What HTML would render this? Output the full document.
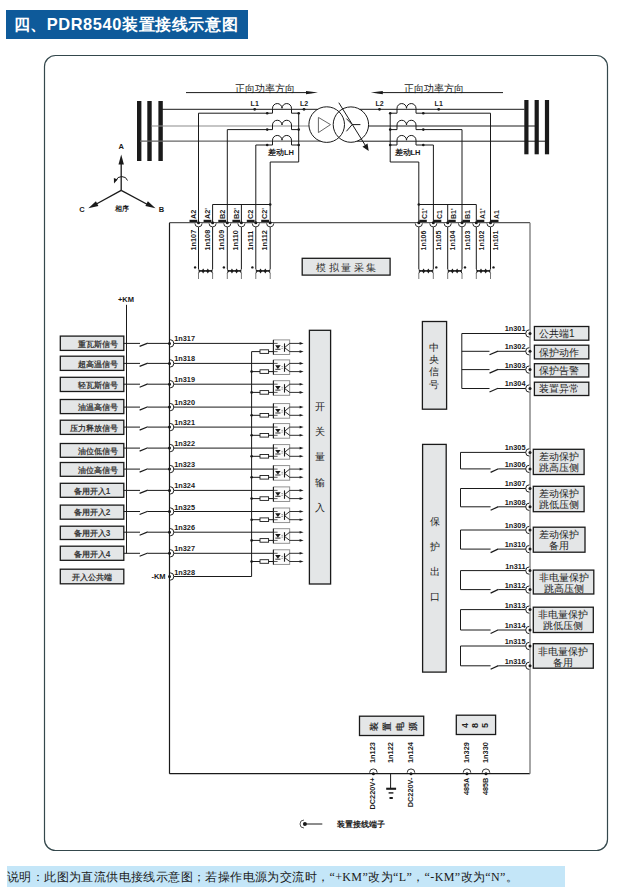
<!DOCTYPE html>
<html><head><meta charset="utf-8"><style>
html,body{margin:0;padding:0;background:#fff;}
body{width:629px;height:894px;position:relative;overflow:hidden;font-family:"Liberation Sans",sans-serif;}
.hdr{position:absolute;left:6px;top:10px;width:242px;height:28.5px;background:#0e5a9a;}
.hdr span{position:absolute;left:7.5px;top:4.5px;color:#fff;font-weight:bold;font-size:16.4px;line-height:18px;letter-spacing:0.6px;white-space:nowrap;font-family:"Liberation Sans",sans-serif;}
.note{position:absolute;left:6.5px;top:866px;width:558px;height:20.5px;background:#c4e6f8;}
.note span{position:absolute;left:0.5px;top:5px;font-size:12px;line-height:13px;letter-spacing:0.4px;color:#1a1a1a;white-space:nowrap;font-family:"Liberation Serif",serif;}
svg{position:absolute;left:0;top:0;}
</style></head><body>
<div class="hdr"><span>四、PDR8540装置接线示意图</span></div>
<svg width="629" height="894" viewBox="0 0 629 894">
<path d="M55.5,55.5 H596.5 A11,11 0 0 1 607.5,66.5 V839.5 A11,11 0 0 1 596.5,850.5 H55.5 A11,11 0 0 1 44.5,839.5 V66.5 A11,11 0 0 1 55.5,55.5 Z" fill="none" stroke="#34484c" stroke-width="1.2"/>
<rect x="137.0" y="101" width="4.4" height="60" fill="#1a1a1a"/>
<rect x="147.3" y="101" width="4.4" height="60" fill="#1a1a1a"/>
<rect x="158.4" y="101" width="4.4" height="60" fill="#1a1a1a"/>
<rect x="524.3" y="100" width="4.2" height="54.3" fill="#1a1a1a"/>
<rect x="534.6" y="100" width="4.2" height="54.3" fill="#1a1a1a"/>
<rect x="544.9" y="100" width="4.2" height="54.3" fill="#1a1a1a"/>
<line x1="162" y1="109.3" x2="317.6" y2="109.3" stroke="#1a1a1a" stroke-width="1"/>
<line x1="151.5" y1="126" x2="309" y2="126" stroke="#8c8c8c" stroke-width="1.2"/>
<line x1="140" y1="141.2" x2="320.5" y2="141.2" stroke="#666" stroke-width="1.2"/>
<line x1="359.8" y1="109.3" x2="524.4" y2="109.3" stroke="#1a1a1a" stroke-width="1"/>
<line x1="368.6" y1="126" x2="535" y2="126" stroke="#1a1a1a" stroke-width="1"/>
<line x1="357.1" y1="141.2" x2="545" y2="141.2" stroke="#1a1a1a" stroke-width="1"/>
<line x1="186" y1="92.6" x2="312" y2="92.6" stroke="#1a1a1a" stroke-width="1"/>
<polygon points="318,92.6 306.00,94.30 306.00,90.90" fill="#1a1a1a"/>
<text x="265" y="91.5" font-family="Liberation Serif, serif" font-size="10" font-weight="normal" text-anchor="middle" fill="#1a1a1a">正向功率方向</text>
<line x1="377" y1="92.6" x2="503" y2="92.6" stroke="#1a1a1a" stroke-width="1"/>
<polygon points="370.8,92.6 382.80,90.90 382.80,94.30" fill="#1a1a1a"/>
<text x="433.5" y="91.5" font-family="Liberation Serif, serif" font-size="10" font-weight="normal" text-anchor="middle" fill="#1a1a1a">正向功率方向</text>
<circle cx="254.7" cy="109.3" r="1.4" fill="#1a1a1a"/>
<text x="254.7" y="105.8" font-family="Liberation Sans, sans-serif" font-size="7" font-weight="bold" text-anchor="middle" fill="#1a1a1a">L1</text>
<circle cx="304" cy="109.3" r="1.4" fill="#1a1a1a"/>
<text x="304" y="105.8" font-family="Liberation Sans, sans-serif" font-size="7" font-weight="bold" text-anchor="middle" fill="#1a1a1a">L2</text>
<circle cx="379.5" cy="109.3" r="1.4" fill="#1a1a1a"/>
<text x="379.5" y="105.8" font-family="Liberation Sans, sans-serif" font-size="7" font-weight="bold" text-anchor="middle" fill="#1a1a1a">L2</text>
<circle cx="438.7" cy="109.3" r="1.4" fill="#1a1a1a"/>
<text x="438.7" y="105.8" font-family="Liberation Sans, sans-serif" font-size="7" font-weight="bold" text-anchor="middle" fill="#1a1a1a">L1</text>
<path d="M272.5,113.2 V108.3 A4.75,4.75 0 0 1 282.0,108.3 A4.75,4.75 0 0 1 291.5,108.3 V113.2" fill="none" stroke="#1a1a1a" stroke-width="1"/>
<line x1="267.2" y1="113.2" x2="272.5" y2="113.2" stroke="#1a1a1a" stroke-width="1"/>
<line x1="291.5" y1="113.2" x2="298.7" y2="113.2" stroke="#1a1a1a" stroke-width="1"/>
<circle cx="267.2" cy="113.2" r="1.3" fill="#1a1a1a"/>
<circle cx="298.7" cy="113.2" r="1.3" fill="#1a1a1a"/>
<path d="M397,113.2 V108.3 A4.75,4.75 0 0 1 406.5,108.3 A4.75,4.75 0 0 1 416.0,108.3 V113.2" fill="none" stroke="#1a1a1a" stroke-width="1"/>
<line x1="390.2" y1="113.2" x2="397" y2="113.2" stroke="#1a1a1a" stroke-width="1"/>
<line x1="416" y1="113.2" x2="423.3" y2="113.2" stroke="#1a1a1a" stroke-width="1"/>
<circle cx="390.2" cy="113.2" r="1.3" fill="#1a1a1a"/>
<circle cx="423.3" cy="113.2" r="1.3" fill="#1a1a1a"/>
<path d="M272.5,129.6 V125 A4.75,4.75 0 0 1 282.0,125 A4.75,4.75 0 0 1 291.5,125 V129.6" fill="none" stroke="#1a1a1a" stroke-width="1"/>
<line x1="267.2" y1="129.6" x2="272.5" y2="129.6" stroke="#1a1a1a" stroke-width="1"/>
<line x1="291.5" y1="129.6" x2="298.7" y2="129.6" stroke="#1a1a1a" stroke-width="1"/>
<circle cx="267.2" cy="129.6" r="1.3" fill="#1a1a1a"/>
<circle cx="298.7" cy="129.6" r="1.3" fill="#1a1a1a"/>
<path d="M397,129.6 V125 A4.75,4.75 0 0 1 406.5,125 A4.75,4.75 0 0 1 416.0,125 V129.6" fill="none" stroke="#1a1a1a" stroke-width="1"/>
<line x1="390.2" y1="129.6" x2="397" y2="129.6" stroke="#1a1a1a" stroke-width="1"/>
<line x1="416" y1="129.6" x2="423.3" y2="129.6" stroke="#1a1a1a" stroke-width="1"/>
<circle cx="390.2" cy="129.6" r="1.3" fill="#1a1a1a"/>
<circle cx="423.3" cy="129.6" r="1.3" fill="#1a1a1a"/>
<path d="M272.5,145 V140.2 A4.75,4.75 0 0 1 282.0,140.2 A4.75,4.75 0 0 1 291.5,140.2 V145" fill="none" stroke="#1a1a1a" stroke-width="1"/>
<line x1="267.2" y1="145" x2="272.5" y2="145" stroke="#1a1a1a" stroke-width="1"/>
<line x1="291.5" y1="145" x2="298.7" y2="145" stroke="#1a1a1a" stroke-width="1"/>
<circle cx="267.2" cy="145" r="1.3" fill="#1a1a1a"/>
<circle cx="298.7" cy="145" r="1.3" fill="#1a1a1a"/>
<path d="M397,145 V140.2 A4.75,4.75 0 0 1 406.5,140.2 A4.75,4.75 0 0 1 416.0,140.2 V145" fill="none" stroke="#1a1a1a" stroke-width="1"/>
<line x1="390.2" y1="145" x2="397" y2="145" stroke="#1a1a1a" stroke-width="1"/>
<line x1="416" y1="145" x2="423.3" y2="145" stroke="#1a1a1a" stroke-width="1"/>
<circle cx="390.2" cy="145" r="1.3" fill="#1a1a1a"/>
<circle cx="423.3" cy="145" r="1.3" fill="#1a1a1a"/>
<text x="281" y="155" font-family="Liberation Sans, sans-serif" font-size="7.5" font-weight="bold" text-anchor="middle" fill="#1a1a1a">差动LH</text>
<text x="407.5" y="155" font-family="Liberation Sans, sans-serif" font-size="7.5" font-weight="bold" text-anchor="middle" fill="#1a1a1a">差动LH</text>
<polyline points="267.2,113.2 198.5,113.2 198.5,222.7" fill="none" stroke="#1a1a1a" stroke-width="1"/>
<polyline points="267.2,129.6 227.3,129.6 227.3,222.7" fill="none" stroke="#1a1a1a" stroke-width="1"/>
<polyline points="267.2,145 255.8,145 255.8,222.7" fill="none" stroke="#1a1a1a" stroke-width="1"/>
<polyline points="298.7,113.2 298.7,162 270.2,162 270.2,222.7" fill="none" stroke="#1a1a1a" stroke-width="1"/>
<line x1="212.6" y1="204.5" x2="270.2" y2="204.5" stroke="#1a1a1a" stroke-width="1"/>
<line x1="212.6" y1="204.5" x2="212.6" y2="222.7" stroke="#1a1a1a" stroke-width="1"/>
<line x1="241.4" y1="204.5" x2="241.4" y2="222.7" stroke="#1a1a1a" stroke-width="1"/>
<circle cx="270.2" cy="204.5" r="1.3" fill="#1a1a1a"/>
<polyline points="390.2,113.2 390.2,162 418.8,162 418.8,222.7" fill="none" stroke="#1a1a1a" stroke-width="1"/>
<polyline points="423.3,113.2 490.5,113.2 490.5,222.7" fill="none" stroke="#1a1a1a" stroke-width="1"/>
<polyline points="423.3,129.6 462,129.6 462,222.7" fill="none" stroke="#1a1a1a" stroke-width="1"/>
<polyline points="423.3,145 433.4,145 433.4,222.7" fill="none" stroke="#1a1a1a" stroke-width="1"/>
<line x1="418.8" y1="204.5" x2="476.3" y2="204.5" stroke="#1a1a1a" stroke-width="1"/>
<line x1="447.7" y1="204.5" x2="447.7" y2="222.7" stroke="#1a1a1a" stroke-width="1"/>
<line x1="476.3" y1="204.5" x2="476.3" y2="222.7" stroke="#1a1a1a" stroke-width="1"/>
<circle cx="418.8" cy="204.5" r="1.3" fill="#1a1a1a"/>
<circle cx="326.7" cy="124.6" r="17.8" fill="none" stroke="#1a1a1a" stroke-width="1"/>
<circle cx="350.9" cy="124.6" r="17.7" fill="none" stroke="#1a1a1a" stroke-width="1"/>
<polygon points="318.4,117.4 318.4,132.6 330.5,124.6" fill="none" stroke="#666" stroke-width="1"/>
<polyline points="346.4,118.6 352.2,124.6 346.4,131.3" fill="none" stroke="#1a1a1a" stroke-width="1"/>
<line x1="352.2" y1="124.6" x2="360.4" y2="124.6" stroke="#1a1a1a" stroke-width="1"/>
<line x1="338.8" y1="102.7" x2="366" y2="146.5" stroke="#1a1a1a" stroke-width="1"/>
<polygon points="368.7,151 362.45,146.65 367.54,143.47" fill="#1a1a1a"/>
<line x1="121.2" y1="190.4" x2="121.2" y2="163" stroke="#1a1a1a" stroke-width="1.3"/>
<polygon points="121.2,154.6 123.90,164.60 118.50,164.60" fill="#1a1a1a"/>
<line x1="121.2" y1="190.4" x2="95" y2="204.8" stroke="#1a1a1a" stroke-width="1.3"/>
<polygon points="88.3,208.2 95.94,201.21 98.42,206.01" fill="#1a1a1a"/>
<line x1="121.2" y1="190.4" x2="148" y2="204.8" stroke="#1a1a1a" stroke-width="1.3"/>
<polygon points="155.5,208.2 145.38,206.01 147.86,201.21" fill="#1a1a1a"/>
<text x="121.2" y="148.8" font-family="Liberation Sans, sans-serif" font-size="7.5" font-weight="bold" text-anchor="middle" fill="#1a1a1a">A</text>
<text x="81.9" y="212" font-family="Liberation Sans, sans-serif" font-size="7.5" font-weight="bold" text-anchor="middle" fill="#1a1a1a">C</text>
<text x="161.4" y="212" font-family="Liberation Sans, sans-serif" font-size="7.5" font-weight="bold" text-anchor="middle" fill="#1a1a1a">B</text>
<text x="122" y="211" font-family="Liberation Sans, sans-serif" font-size="7.3" font-weight="bold" text-anchor="middle" fill="#1a1a1a">相序</text>
<path d="M127.5,180.5 A6,5.5 0 0 0 116,180.5" fill="none" stroke="#1a1a1a" stroke-width="1"/>
<polygon points="114,183.5 113.87,178.12 117.62,179.51" fill="#1a1a1a"/>
<line x1="169.5" y1="222.7" x2="530" y2="222.7" stroke="#555" stroke-width="1.2"/>
<line x1="169.5" y1="222.7" x2="169.5" y2="773.7" stroke="#1a1a1a" stroke-width="1.2"/>
<line x1="169.5" y1="773.7" x2="530" y2="773.7" stroke="#1a1a1a" stroke-width="1.2"/>
<line x1="530" y1="222.7" x2="530" y2="773.7" stroke="#888" stroke-width="1.5"/>
<rect x="189.5" y="219.8" width="7.8" height="2.2" fill="#1a1a1a"/>
<text x="195.7" y="219" font-family="Liberation Sans, sans-serif" font-size="7.3" font-weight="bold" text-anchor="start" fill="#1a1a1a" transform="rotate(-90 195.7 219)">A2</text>
<text x="195.5" y="250.5" font-family="Liberation Sans, sans-serif" font-size="7.3" font-weight="bold" text-anchor="start" fill="#1a1a1a" transform="rotate(-90 195.5 250.5)">1n107</text>
<rect x="203.6" y="219.8" width="7.8" height="2.2" fill="#1a1a1a"/>
<text x="209.79999999999998" y="219" font-family="Liberation Sans, sans-serif" font-size="7.3" font-weight="bold" text-anchor="start" fill="#1a1a1a" transform="rotate(-90 209.79999999999998 219)">A2'</text>
<text x="209.6" y="250.5" font-family="Liberation Sans, sans-serif" font-size="7.3" font-weight="bold" text-anchor="start" fill="#1a1a1a" transform="rotate(-90 209.6 250.5)">1n108</text>
<rect x="218.3" y="219.8" width="7.8" height="2.2" fill="#1a1a1a"/>
<text x="224.5" y="219" font-family="Liberation Sans, sans-serif" font-size="7.3" font-weight="bold" text-anchor="start" fill="#1a1a1a" transform="rotate(-90 224.5 219)">B2</text>
<text x="224.3" y="250.5" font-family="Liberation Sans, sans-serif" font-size="7.3" font-weight="bold" text-anchor="start" fill="#1a1a1a" transform="rotate(-90 224.3 250.5)">1n109</text>
<rect x="232.4" y="219.8" width="7.8" height="2.2" fill="#1a1a1a"/>
<text x="238.6" y="219" font-family="Liberation Sans, sans-serif" font-size="7.3" font-weight="bold" text-anchor="start" fill="#1a1a1a" transform="rotate(-90 238.6 219)">B2'</text>
<text x="238.4" y="250.5" font-family="Liberation Sans, sans-serif" font-size="7.3" font-weight="bold" text-anchor="start" fill="#1a1a1a" transform="rotate(-90 238.4 250.5)">1n110</text>
<rect x="246.8" y="219.8" width="7.8" height="2.2" fill="#1a1a1a"/>
<text x="253.0" y="219" font-family="Liberation Sans, sans-serif" font-size="7.3" font-weight="bold" text-anchor="start" fill="#1a1a1a" transform="rotate(-90 253.0 219)">C2</text>
<text x="252.8" y="250.5" font-family="Liberation Sans, sans-serif" font-size="7.3" font-weight="bold" text-anchor="start" fill="#1a1a1a" transform="rotate(-90 252.8 250.5)">1n111</text>
<rect x="261.2" y="219.8" width="7.8" height="2.2" fill="#1a1a1a"/>
<text x="267.4" y="219" font-family="Liberation Sans, sans-serif" font-size="7.3" font-weight="bold" text-anchor="start" fill="#1a1a1a" transform="rotate(-90 267.4 219)">C2'</text>
<text x="267.2" y="250.5" font-family="Liberation Sans, sans-serif" font-size="7.3" font-weight="bold" text-anchor="start" fill="#1a1a1a" transform="rotate(-90 267.2 250.5)">1n112</text>
<rect x="419.3" y="219.8" width="7.5" height="2.2" fill="#1a1a1a"/>
<text x="427.1" y="219" font-family="Liberation Sans, sans-serif" font-size="7" font-weight="bold" text-anchor="start" fill="#1a1a1a" transform="rotate(-90 427.1 219)">C1'</text>
<text x="426.3" y="250.5" font-family="Liberation Sans, sans-serif" font-size="7" font-weight="bold" text-anchor="start" fill="#1a1a1a" transform="rotate(-90 426.3 250.5)">1n106</text>
<rect x="433.8" y="219.8" width="7.5" height="2.2" fill="#1a1a1a"/>
<text x="441.6" y="219" font-family="Liberation Sans, sans-serif" font-size="7" font-weight="bold" text-anchor="start" fill="#1a1a1a" transform="rotate(-90 441.6 219)">C1</text>
<text x="440.8" y="250.5" font-family="Liberation Sans, sans-serif" font-size="7" font-weight="bold" text-anchor="start" fill="#1a1a1a" transform="rotate(-90 440.8 250.5)">1n105</text>
<rect x="448.2" y="219.8" width="7.5" height="2.2" fill="#1a1a1a"/>
<text x="456.0" y="219" font-family="Liberation Sans, sans-serif" font-size="7" font-weight="bold" text-anchor="start" fill="#1a1a1a" transform="rotate(-90 456.0 219)">B1'</text>
<text x="455.2" y="250.5" font-family="Liberation Sans, sans-serif" font-size="7" font-weight="bold" text-anchor="start" fill="#1a1a1a" transform="rotate(-90 455.2 250.5)">1n104</text>
<rect x="462.5" y="219.8" width="7.5" height="2.2" fill="#1a1a1a"/>
<text x="470.3" y="219" font-family="Liberation Sans, sans-serif" font-size="7" font-weight="bold" text-anchor="start" fill="#1a1a1a" transform="rotate(-90 470.3 219)">B1</text>
<text x="469.5" y="250.5" font-family="Liberation Sans, sans-serif" font-size="7" font-weight="bold" text-anchor="start" fill="#1a1a1a" transform="rotate(-90 469.5 250.5)">1n103</text>
<rect x="476.8" y="219.8" width="7.5" height="2.2" fill="#1a1a1a"/>
<text x="484.6" y="219" font-family="Liberation Sans, sans-serif" font-size="7" font-weight="bold" text-anchor="start" fill="#1a1a1a" transform="rotate(-90 484.6 219)">A1'</text>
<text x="483.8" y="250.5" font-family="Liberation Sans, sans-serif" font-size="7" font-weight="bold" text-anchor="start" fill="#1a1a1a" transform="rotate(-90 483.8 250.5)">1n102</text>
<rect x="491.0" y="219.8" width="7.5" height="2.2" fill="#1a1a1a"/>
<text x="498.8" y="219" font-family="Liberation Sans, sans-serif" font-size="7" font-weight="bold" text-anchor="start" fill="#1a1a1a" transform="rotate(-90 498.8 219)">A1</text>
<text x="498.0" y="250.5" font-family="Liberation Sans, sans-serif" font-size="7" font-weight="bold" text-anchor="start" fill="#1a1a1a" transform="rotate(-90 498.0 250.5)">1n101</text>
<line x1="198.5" y1="222.7" x2="198.5" y2="269" stroke="#1a1a1a" stroke-width="1"/>
<line x1="212.6" y1="222.7" x2="212.6" y2="269" stroke="#1a1a1a" stroke-width="1"/>
<line x1="198.5" y1="270.9" x2="212.6" y2="270.9" stroke="#1a1a1a" stroke-width="1.6"/>
<polygon points="201.553,270.9 203.153,268.59999999999997 204.753,270.9 203.153,273.59999999999997" fill="#1a1a1a"/>
<polygon points="206.206,270.9 207.80599999999998,268.59999999999997 209.40599999999998,270.9 207.80599999999998,273.59999999999997" fill="#1a1a1a"/>
<polyline points="198.5,269.2 200.0,270.9 198.5,273.2" fill="none" stroke="#1a1a1a" stroke-width="1"/>
<polyline points="212.6,269.2 211.1,270.9 212.6,273.2" fill="none" stroke="#1a1a1a" stroke-width="1"/>
<line x1="198.5" y1="273" x2="198.5" y2="279" stroke="#777" stroke-width="1"/>
<line x1="212.6" y1="273" x2="212.6" y2="279" stroke="#777" stroke-width="1"/>
<circle cx="195.1" cy="267.4" r="1.2" fill="#1a1a1a"/>
<line x1="227.3" y1="222.7" x2="227.3" y2="269" stroke="#1a1a1a" stroke-width="1"/>
<line x1="241.4" y1="222.7" x2="241.4" y2="269" stroke="#1a1a1a" stroke-width="1"/>
<line x1="227.3" y1="270.9" x2="241.4" y2="270.9" stroke="#1a1a1a" stroke-width="1.6"/>
<polygon points="230.353,270.9 231.953,268.59999999999997 233.553,270.9 231.953,273.59999999999997" fill="#1a1a1a"/>
<polygon points="235.006,270.9 236.606,268.59999999999997 238.206,270.9 236.606,273.59999999999997" fill="#1a1a1a"/>
<polyline points="227.3,269.2 228.8,270.9 227.3,273.2" fill="none" stroke="#1a1a1a" stroke-width="1"/>
<polyline points="241.4,269.2 239.9,270.9 241.4,273.2" fill="none" stroke="#1a1a1a" stroke-width="1"/>
<line x1="227.3" y1="273" x2="227.3" y2="279" stroke="#777" stroke-width="1"/>
<line x1="241.4" y1="273" x2="241.4" y2="279" stroke="#777" stroke-width="1"/>
<circle cx="223.9" cy="267.4" r="1.2" fill="#1a1a1a"/>
<line x1="255.8" y1="222.7" x2="255.8" y2="269" stroke="#1a1a1a" stroke-width="1"/>
<line x1="270.2" y1="222.7" x2="270.2" y2="269" stroke="#1a1a1a" stroke-width="1"/>
<line x1="255.8" y1="270.9" x2="270.2" y2="270.9" stroke="#1a1a1a" stroke-width="1.6"/>
<polygon points="258.952,270.9 260.552,268.59999999999997 262.15200000000004,270.9 260.552,273.59999999999997" fill="#1a1a1a"/>
<polygon points="263.70399999999995,270.9 265.304,268.59999999999997 266.904,270.9 265.304,273.59999999999997" fill="#1a1a1a"/>
<polyline points="255.8,269.2 257.3,270.9 255.8,273.2" fill="none" stroke="#1a1a1a" stroke-width="1"/>
<polyline points="270.2,269.2 268.7,270.9 270.2,273.2" fill="none" stroke="#1a1a1a" stroke-width="1"/>
<line x1="255.8" y1="273" x2="255.8" y2="279" stroke="#777" stroke-width="1"/>
<line x1="270.2" y1="273" x2="270.2" y2="279" stroke="#777" stroke-width="1"/>
<circle cx="252.4" cy="267.4" r="1.2" fill="#1a1a1a"/>
<line x1="418.8" y1="222.7" x2="418.8" y2="269" stroke="#1a1a1a" stroke-width="1"/>
<line x1="433.3" y1="222.7" x2="433.3" y2="269" stroke="#1a1a1a" stroke-width="1"/>
<line x1="418.8" y1="270.9" x2="433.3" y2="270.9" stroke="#1a1a1a" stroke-width="1.6"/>
<polygon points="421.985,270.9 423.58500000000004,268.59999999999997 425.18500000000006,270.9 423.58500000000004,273.59999999999997" fill="#1a1a1a"/>
<polygon points="426.77,270.9 428.37,268.59999999999997 429.97,270.9 428.37,273.59999999999997" fill="#1a1a1a"/>
<polyline points="418.8,269.2 420.3,270.9 418.8,273.2" fill="none" stroke="#1a1a1a" stroke-width="1"/>
<polyline points="433.3,269.2 431.8,270.9 433.3,273.2" fill="none" stroke="#1a1a1a" stroke-width="1"/>
<line x1="418.8" y1="273" x2="418.8" y2="279" stroke="#777" stroke-width="1"/>
<line x1="433.3" y1="273" x2="433.3" y2="279" stroke="#777" stroke-width="1"/>
<circle cx="436.3" cy="267.4" r="1.2" fill="#1a1a1a"/>
<line x1="447.7" y1="222.7" x2="447.7" y2="269" stroke="#1a1a1a" stroke-width="1"/>
<line x1="462" y1="222.7" x2="462" y2="269" stroke="#1a1a1a" stroke-width="1"/>
<line x1="447.7" y1="270.9" x2="462" y2="270.9" stroke="#1a1a1a" stroke-width="1.6"/>
<polygon points="450.81899999999996,270.9 452.419,268.59999999999997 454.019,270.9 452.419,273.59999999999997" fill="#1a1a1a"/>
<polygon points="455.53799999999995,270.9 457.138,268.59999999999997 458.738,270.9 457.138,273.59999999999997" fill="#1a1a1a"/>
<polyline points="447.7,269.2 449.2,270.9 447.7,273.2" fill="none" stroke="#1a1a1a" stroke-width="1"/>
<polyline points="462,269.2 460.5,270.9 462,273.2" fill="none" stroke="#1a1a1a" stroke-width="1"/>
<line x1="447.7" y1="273" x2="447.7" y2="279" stroke="#777" stroke-width="1"/>
<line x1="462" y1="273" x2="462" y2="279" stroke="#777" stroke-width="1"/>
<circle cx="465" cy="267.4" r="1.2" fill="#1a1a1a"/>
<line x1="476.3" y1="222.7" x2="476.3" y2="269" stroke="#1a1a1a" stroke-width="1"/>
<line x1="490.5" y1="222.7" x2="490.5" y2="269" stroke="#1a1a1a" stroke-width="1"/>
<line x1="476.3" y1="270.9" x2="490.5" y2="270.9" stroke="#1a1a1a" stroke-width="1.6"/>
<polygon points="479.38599999999997,270.9 480.986,268.59999999999997 482.586,270.9 480.986,273.59999999999997" fill="#1a1a1a"/>
<polygon points="484.072,270.9 485.672,268.59999999999997 487.27200000000005,270.9 485.672,273.59999999999997" fill="#1a1a1a"/>
<polyline points="476.3,269.2 477.8,270.9 476.3,273.2" fill="none" stroke="#1a1a1a" stroke-width="1"/>
<polyline points="490.5,269.2 489.0,270.9 490.5,273.2" fill="none" stroke="#1a1a1a" stroke-width="1"/>
<line x1="476.3" y1="273" x2="476.3" y2="279" stroke="#777" stroke-width="1"/>
<line x1="490.5" y1="273" x2="490.5" y2="279" stroke="#777" stroke-width="1"/>
<circle cx="493.5" cy="267.4" r="1.2" fill="#1a1a1a"/>
<rect x="302.2" y="258.3" width="87.9" height="16.8" stroke="#1a1a1a" stroke-width="1.3" fill="#e4e6e7"/>
<text x="346.2" y="270.6" font-family="Liberation Serif, serif" font-size="10" font-weight="500" text-anchor="middle" fill="#333">模 拟 量 采 集</text>
<rect x="60.3" y="336.1" width="63.5" height="14.299999999999955" stroke="#1a1a1a" stroke-width="1.3" fill="#e4e6e7"/>
<text x="117.8" y="346.55" font-family="Liberation Serif, serif" font-size="8.2" font-weight="bold" text-anchor="end" fill="#3a3a3a">重瓦斯信号</text>
<rect x="60.3" y="356.2" width="63.5" height="14.199999999999989" stroke="#1a1a1a" stroke-width="1.3" fill="#e4e6e7"/>
<text x="117.8" y="366.59999999999997" font-family="Liberation Serif, serif" font-size="8.2" font-weight="bold" text-anchor="end" fill="#3a3a3a">超高温信号</text>
<rect x="60.3" y="377.3" width="63.5" height="14.199999999999989" stroke="#1a1a1a" stroke-width="1.3" fill="#e4e6e7"/>
<text x="117.8" y="387.7" font-family="Liberation Serif, serif" font-size="8.2" font-weight="bold" text-anchor="end" fill="#3a3a3a">轻瓦斯信号</text>
<rect x="60.3" y="399.5" width="63.5" height="14.100000000000023" stroke="#1a1a1a" stroke-width="1.3" fill="#e4e6e7"/>
<text x="117.8" y="409.85" font-family="Liberation Serif, serif" font-size="8.2" font-weight="bold" text-anchor="end" fill="#3a3a3a">油温高信号</text>
<rect x="60.3" y="420.2" width="63.5" height="14.199999999999989" stroke="#1a1a1a" stroke-width="1.3" fill="#e4e6e7"/>
<text x="117.8" y="430.59999999999997" font-family="Liberation Serif, serif" font-size="8.2" font-weight="bold" text-anchor="end" fill="#3a3a3a">压力释放信号</text>
<rect x="60.3" y="443.5" width="63.5" height="13.800000000000011" stroke="#1a1a1a" stroke-width="1.3" fill="#e4e6e7"/>
<text x="117.8" y="453.7" font-family="Liberation Serif, serif" font-size="8.2" font-weight="bold" text-anchor="end" fill="#3a3a3a">油位低信号</text>
<rect x="60.3" y="462.5" width="63.5" height="13.800000000000011" stroke="#1a1a1a" stroke-width="1.3" fill="#e4e6e7"/>
<text x="117.8" y="472.7" font-family="Liberation Serif, serif" font-size="8.2" font-weight="bold" text-anchor="end" fill="#3a3a3a">油位高信号</text>
<rect x="60.3" y="483.3" width="63.5" height="14.0" stroke="#1a1a1a" stroke-width="1.3" fill="#e4e6e7"/>
<text x="92" y="493.6" font-family="Liberation Sans, sans-serif" font-size="8.2" font-weight="bold" text-anchor="middle" fill="#3a3a3a">备用开入1</text>
<rect x="60.3" y="505.1" width="63.5" height="14.100000000000023" stroke="#1a1a1a" stroke-width="1.3" fill="#e4e6e7"/>
<text x="92" y="515.45" font-family="Liberation Sans, sans-serif" font-size="8.2" font-weight="bold" text-anchor="middle" fill="#3a3a3a">备用开入2</text>
<rect x="60.3" y="526.2" width="63.5" height="13.299999999999955" stroke="#1a1a1a" stroke-width="1.3" fill="#e4e6e7"/>
<text x="92" y="536.15" font-family="Liberation Sans, sans-serif" font-size="8.2" font-weight="bold" text-anchor="middle" fill="#3a3a3a">备用开入3</text>
<rect x="60.3" y="546.2" width="63.5" height="14.099999999999909" stroke="#1a1a1a" stroke-width="1.3" fill="#e4e6e7"/>
<text x="92" y="556.55" font-family="Liberation Sans, sans-serif" font-size="8.2" font-weight="bold" text-anchor="middle" fill="#3a3a3a">备用开入4</text>
<rect x="60.3" y="569.2" width="63.5" height="14.599999999999909" stroke="#1a1a1a" stroke-width="1.3" fill="#e4e6e7"/>
<text x="92" y="579.8" font-family="Liberation Sans, sans-serif" font-size="8.2" font-weight="bold" text-anchor="middle" fill="#3a3a3a">开入公共端</text>
<text x="126" y="301.5" font-family="Liberation Sans, sans-serif" font-size="7.5" font-weight="bold" text-anchor="middle" fill="#1a1a1a">+KM</text>
<line x1="126.5" y1="304.8" x2="126.5" y2="553.3" stroke="#1a1a1a" stroke-width="1"/>
<line x1="123.8" y1="343.4" x2="140" y2="343.4" stroke="#1a1a1a" stroke-width="1"/>
<line x1="139.6" y1="346.4" x2="147.8" y2="343.09999999999997" stroke="#1a1a1a" stroke-width="1.2"/>
<line x1="147.8" y1="343.4" x2="169.5" y2="343.4" stroke="#1a1a1a" stroke-width="1"/>
<text x="174.3" y="341.4" font-family="Liberation Sans, sans-serif" font-size="7.3" font-weight="bold" text-anchor="start" fill="#1a1a1a">1n317</text>
<line x1="123.8" y1="363.4" x2="140" y2="363.4" stroke="#1a1a1a" stroke-width="1"/>
<line x1="139.6" y1="366.4" x2="147.8" y2="363.09999999999997" stroke="#1a1a1a" stroke-width="1.2"/>
<line x1="147.8" y1="363.4" x2="169.5" y2="363.4" stroke="#1a1a1a" stroke-width="1"/>
<text x="174.3" y="361.4" font-family="Liberation Sans, sans-serif" font-size="7.3" font-weight="bold" text-anchor="start" fill="#1a1a1a">1n318</text>
<line x1="123.8" y1="384.2" x2="140" y2="384.2" stroke="#1a1a1a" stroke-width="1"/>
<line x1="139.6" y1="387.2" x2="147.8" y2="383.9" stroke="#1a1a1a" stroke-width="1.2"/>
<line x1="147.8" y1="384.2" x2="169.5" y2="384.2" stroke="#1a1a1a" stroke-width="1"/>
<text x="174.3" y="382.2" font-family="Liberation Sans, sans-serif" font-size="7.3" font-weight="bold" text-anchor="start" fill="#1a1a1a">1n319</text>
<line x1="123.8" y1="407.1" x2="140" y2="407.1" stroke="#1a1a1a" stroke-width="1"/>
<line x1="139.6" y1="410.1" x2="147.8" y2="406.8" stroke="#1a1a1a" stroke-width="1.2"/>
<line x1="147.8" y1="407.1" x2="169.5" y2="407.1" stroke="#1a1a1a" stroke-width="1"/>
<text x="174.3" y="405.1" font-family="Liberation Sans, sans-serif" font-size="7.3" font-weight="bold" text-anchor="start" fill="#1a1a1a">1n320</text>
<line x1="123.8" y1="427.1" x2="140" y2="427.1" stroke="#1a1a1a" stroke-width="1"/>
<line x1="139.6" y1="430.1" x2="147.8" y2="426.8" stroke="#1a1a1a" stroke-width="1.2"/>
<line x1="147.8" y1="427.1" x2="169.5" y2="427.1" stroke="#1a1a1a" stroke-width="1"/>
<text x="174.3" y="425.1" font-family="Liberation Sans, sans-serif" font-size="7.3" font-weight="bold" text-anchor="start" fill="#1a1a1a">1n321</text>
<line x1="123.8" y1="448.1" x2="140" y2="448.1" stroke="#1a1a1a" stroke-width="1"/>
<line x1="139.6" y1="451.1" x2="147.8" y2="447.8" stroke="#1a1a1a" stroke-width="1.2"/>
<line x1="147.8" y1="448.1" x2="169.5" y2="448.1" stroke="#1a1a1a" stroke-width="1"/>
<text x="174.3" y="446.1" font-family="Liberation Sans, sans-serif" font-size="7.3" font-weight="bold" text-anchor="start" fill="#1a1a1a">1n322</text>
<line x1="123.8" y1="469.1" x2="140" y2="469.1" stroke="#1a1a1a" stroke-width="1"/>
<line x1="139.6" y1="472.1" x2="147.8" y2="468.8" stroke="#1a1a1a" stroke-width="1.2"/>
<line x1="147.8" y1="469.1" x2="169.5" y2="469.1" stroke="#1a1a1a" stroke-width="1"/>
<text x="174.3" y="467.1" font-family="Liberation Sans, sans-serif" font-size="7.3" font-weight="bold" text-anchor="start" fill="#1a1a1a">1n323</text>
<line x1="123.8" y1="490.4" x2="140" y2="490.4" stroke="#1a1a1a" stroke-width="1"/>
<line x1="139.6" y1="493.4" x2="147.8" y2="490.09999999999997" stroke="#1a1a1a" stroke-width="1.2"/>
<line x1="147.8" y1="490.4" x2="169.5" y2="490.4" stroke="#1a1a1a" stroke-width="1"/>
<text x="174.3" y="488.4" font-family="Liberation Sans, sans-serif" font-size="7.3" font-weight="bold" text-anchor="start" fill="#1a1a1a">1n324</text>
<line x1="123.8" y1="511.5" x2="140" y2="511.5" stroke="#1a1a1a" stroke-width="1"/>
<line x1="139.6" y1="514.5" x2="147.8" y2="511.2" stroke="#1a1a1a" stroke-width="1.2"/>
<line x1="147.8" y1="511.5" x2="169.5" y2="511.5" stroke="#1a1a1a" stroke-width="1"/>
<text x="174.3" y="509.5" font-family="Liberation Sans, sans-serif" font-size="7.3" font-weight="bold" text-anchor="start" fill="#1a1a1a">1n325</text>
<line x1="123.8" y1="532.2" x2="140" y2="532.2" stroke="#1a1a1a" stroke-width="1"/>
<line x1="139.6" y1="535.2" x2="147.8" y2="531.9000000000001" stroke="#1a1a1a" stroke-width="1.2"/>
<line x1="147.8" y1="532.2" x2="169.5" y2="532.2" stroke="#1a1a1a" stroke-width="1"/>
<text x="174.3" y="530.2" font-family="Liberation Sans, sans-serif" font-size="7.3" font-weight="bold" text-anchor="start" fill="#1a1a1a">1n326</text>
<line x1="123.8" y1="553.3" x2="140" y2="553.3" stroke="#1a1a1a" stroke-width="1"/>
<line x1="139.6" y1="556.3" x2="147.8" y2="553.0" stroke="#1a1a1a" stroke-width="1.2"/>
<line x1="147.8" y1="553.3" x2="169.5" y2="553.3" stroke="#1a1a1a" stroke-width="1"/>
<text x="174.3" y="551.3" font-family="Liberation Sans, sans-serif" font-size="7.3" font-weight="bold" text-anchor="start" fill="#1a1a1a">1n327</text>
<text x="174.3" y="574.5" font-family="Liberation Sans, sans-serif" font-size="7.3" font-weight="bold" text-anchor="start" fill="#1a1a1a">1n328</text>
<text x="158.5" y="579" font-family="Liberation Sans, sans-serif" font-size="7.5" font-weight="bold" text-anchor="middle" fill="#1a1a1a">-KM</text>
<line x1="169.5" y1="343.4" x2="273.4" y2="343.4" stroke="#1a1a1a" stroke-width="1"/>
<rect x="273.4" y="339.9" width="16.3" height="14.6" stroke="#888" stroke-width="0.9" fill="#fbfbfb"/>
<line x1="273.4" y1="339.9" x2="273.4" y2="354.5" stroke="#1a1a1a" stroke-width="1.1"/>
<line x1="273.4" y1="343.4" x2="277.6" y2="343.4" stroke="#333" stroke-width="0.8"/>
<line x1="273.4" y1="351.59999999999997" x2="277.6" y2="351.59999999999997" stroke="#333" stroke-width="0.8"/>
<polygon points="275.1,345.2 280.7,345.2 277.9,348.9" fill="#1a1a1a"/>
<line x1="275.3" y1="349.29999999999995" x2="280.5" y2="349.29999999999995" stroke="#1a1a1a" stroke-width="0.9"/>
<circle cx="282.1" cy="346.5" r="0.55" fill="#555"/>
<circle cx="282.1" cy="348.29999999999995" r="0.55" fill="#555"/>
<line x1="284.5" y1="343.4" x2="284.5" y2="351.79999999999995" stroke="#1a1a1a" stroke-width="1.1"/>
<line x1="284.5" y1="347.59999999999997" x2="289.7" y2="343.4" stroke="#1a1a1a" stroke-width="0.9"/>
<line x1="284.5" y1="347.59999999999997" x2="289.7" y2="351.59999999999997" stroke="#1a1a1a" stroke-width="0.9"/>
<line x1="289.7" y1="343.4" x2="300" y2="343.4" stroke="#1a1a1a" stroke-width="0.9"/>
<polygon points="303.6,343.4 299.60,344.70 299.60,342.10" fill="#1a1a1a"/>
<line x1="289.7" y1="351.59999999999997" x2="300" y2="351.59999999999997" stroke="#1a1a1a" stroke-width="0.9"/>
<polygon points="303.6,351.59999999999997 299.60,352.90 299.60,350.30" fill="#1a1a1a"/>
<line x1="251.6" y1="351.59999999999997" x2="260" y2="351.59999999999997" stroke="#1a1a1a" stroke-width="1"/>
<rect x="260" y="349.79999999999995" width="8.6" height="3.6" stroke="#1a1a1a" stroke-width="0.9" fill="#fff"/>
<line x1="268.6" y1="351.59999999999997" x2="273.4" y2="351.59999999999997" stroke="#1a1a1a" stroke-width="1"/>
<line x1="169.5" y1="363.4" x2="273.4" y2="363.4" stroke="#1a1a1a" stroke-width="1"/>
<rect x="273.4" y="359.9" width="16.3" height="14.6" stroke="#888" stroke-width="0.9" fill="#fbfbfb"/>
<line x1="273.4" y1="359.9" x2="273.4" y2="374.5" stroke="#1a1a1a" stroke-width="1.1"/>
<line x1="273.4" y1="363.4" x2="277.6" y2="363.4" stroke="#333" stroke-width="0.8"/>
<line x1="273.4" y1="371.59999999999997" x2="277.6" y2="371.59999999999997" stroke="#333" stroke-width="0.8"/>
<polygon points="275.1,365.2 280.7,365.2 277.9,368.9" fill="#1a1a1a"/>
<line x1="275.3" y1="369.29999999999995" x2="280.5" y2="369.29999999999995" stroke="#1a1a1a" stroke-width="0.9"/>
<circle cx="282.1" cy="366.5" r="0.55" fill="#555"/>
<circle cx="282.1" cy="368.29999999999995" r="0.55" fill="#555"/>
<line x1="284.5" y1="363.4" x2="284.5" y2="371.79999999999995" stroke="#1a1a1a" stroke-width="1.1"/>
<line x1="284.5" y1="367.59999999999997" x2="289.7" y2="363.4" stroke="#1a1a1a" stroke-width="0.9"/>
<line x1="284.5" y1="367.59999999999997" x2="289.7" y2="371.59999999999997" stroke="#1a1a1a" stroke-width="0.9"/>
<line x1="289.7" y1="363.4" x2="300" y2="363.4" stroke="#1a1a1a" stroke-width="0.9"/>
<polygon points="303.6,363.4 299.60,364.70 299.60,362.10" fill="#1a1a1a"/>
<line x1="289.7" y1="371.59999999999997" x2="300" y2="371.59999999999997" stroke="#1a1a1a" stroke-width="0.9"/>
<polygon points="303.6,371.59999999999997 299.60,372.90 299.60,370.30" fill="#1a1a1a"/>
<line x1="251.6" y1="371.59999999999997" x2="260" y2="371.59999999999997" stroke="#1a1a1a" stroke-width="1"/>
<rect x="260" y="369.79999999999995" width="8.6" height="3.6" stroke="#1a1a1a" stroke-width="0.9" fill="#fff"/>
<line x1="268.6" y1="371.59999999999997" x2="273.4" y2="371.59999999999997" stroke="#1a1a1a" stroke-width="1"/>
<circle cx="251.6" cy="371.59999999999997" r="1.3" fill="#1a1a1a"/>
<line x1="169.5" y1="384.2" x2="273.4" y2="384.2" stroke="#1a1a1a" stroke-width="1"/>
<rect x="273.4" y="380.7" width="16.3" height="14.6" stroke="#888" stroke-width="0.9" fill="#fbfbfb"/>
<line x1="273.4" y1="380.7" x2="273.4" y2="395.3" stroke="#1a1a1a" stroke-width="1.1"/>
<line x1="273.4" y1="384.2" x2="277.6" y2="384.2" stroke="#333" stroke-width="0.8"/>
<line x1="273.4" y1="392.4" x2="277.6" y2="392.4" stroke="#333" stroke-width="0.8"/>
<polygon points="275.1,386.0 280.7,386.0 277.9,389.7" fill="#1a1a1a"/>
<line x1="275.3" y1="390.09999999999997" x2="280.5" y2="390.09999999999997" stroke="#1a1a1a" stroke-width="0.9"/>
<circle cx="282.1" cy="387.3" r="0.55" fill="#555"/>
<circle cx="282.1" cy="389.09999999999997" r="0.55" fill="#555"/>
<line x1="284.5" y1="384.2" x2="284.5" y2="392.59999999999997" stroke="#1a1a1a" stroke-width="1.1"/>
<line x1="284.5" y1="388.4" x2="289.7" y2="384.2" stroke="#1a1a1a" stroke-width="0.9"/>
<line x1="284.5" y1="388.4" x2="289.7" y2="392.4" stroke="#1a1a1a" stroke-width="0.9"/>
<line x1="289.7" y1="384.2" x2="300" y2="384.2" stroke="#1a1a1a" stroke-width="0.9"/>
<polygon points="303.6,384.2 299.60,385.50 299.60,382.90" fill="#1a1a1a"/>
<line x1="289.7" y1="392.4" x2="300" y2="392.4" stroke="#1a1a1a" stroke-width="0.9"/>
<polygon points="303.6,392.4 299.60,393.70 299.60,391.10" fill="#1a1a1a"/>
<line x1="251.6" y1="392.4" x2="260" y2="392.4" stroke="#1a1a1a" stroke-width="1"/>
<rect x="260" y="390.59999999999997" width="8.6" height="3.6" stroke="#1a1a1a" stroke-width="0.9" fill="#fff"/>
<line x1="268.6" y1="392.4" x2="273.4" y2="392.4" stroke="#1a1a1a" stroke-width="1"/>
<circle cx="251.6" cy="392.4" r="1.3" fill="#1a1a1a"/>
<line x1="169.5" y1="407.1" x2="273.4" y2="407.1" stroke="#1a1a1a" stroke-width="1"/>
<rect x="273.4" y="403.6" width="16.3" height="14.6" stroke="#888" stroke-width="0.9" fill="#fbfbfb"/>
<line x1="273.4" y1="403.6" x2="273.4" y2="418.20000000000005" stroke="#1a1a1a" stroke-width="1.1"/>
<line x1="273.4" y1="407.1" x2="277.6" y2="407.1" stroke="#333" stroke-width="0.8"/>
<line x1="273.4" y1="415.3" x2="277.6" y2="415.3" stroke="#333" stroke-width="0.8"/>
<polygon points="275.1,408.90000000000003 280.7,408.90000000000003 277.9,412.6" fill="#1a1a1a"/>
<line x1="275.3" y1="413.0" x2="280.5" y2="413.0" stroke="#1a1a1a" stroke-width="0.9"/>
<circle cx="282.1" cy="410.20000000000005" r="0.55" fill="#555"/>
<circle cx="282.1" cy="412.0" r="0.55" fill="#555"/>
<line x1="284.5" y1="407.1" x2="284.5" y2="415.5" stroke="#1a1a1a" stroke-width="1.1"/>
<line x1="284.5" y1="411.3" x2="289.7" y2="407.1" stroke="#1a1a1a" stroke-width="0.9"/>
<line x1="284.5" y1="411.3" x2="289.7" y2="415.3" stroke="#1a1a1a" stroke-width="0.9"/>
<line x1="289.7" y1="407.1" x2="300" y2="407.1" stroke="#1a1a1a" stroke-width="0.9"/>
<polygon points="303.6,407.1 299.60,408.40 299.60,405.80" fill="#1a1a1a"/>
<line x1="289.7" y1="415.3" x2="300" y2="415.3" stroke="#1a1a1a" stroke-width="0.9"/>
<polygon points="303.6,415.3 299.60,416.60 299.60,414.00" fill="#1a1a1a"/>
<line x1="251.6" y1="415.3" x2="260" y2="415.3" stroke="#1a1a1a" stroke-width="1"/>
<rect x="260" y="413.5" width="8.6" height="3.6" stroke="#1a1a1a" stroke-width="0.9" fill="#fff"/>
<line x1="268.6" y1="415.3" x2="273.4" y2="415.3" stroke="#1a1a1a" stroke-width="1"/>
<circle cx="251.6" cy="415.3" r="1.3" fill="#1a1a1a"/>
<line x1="169.5" y1="427.1" x2="273.4" y2="427.1" stroke="#1a1a1a" stroke-width="1"/>
<rect x="273.4" y="423.6" width="16.3" height="14.6" stroke="#888" stroke-width="0.9" fill="#fbfbfb"/>
<line x1="273.4" y1="423.6" x2="273.4" y2="438.20000000000005" stroke="#1a1a1a" stroke-width="1.1"/>
<line x1="273.4" y1="427.1" x2="277.6" y2="427.1" stroke="#333" stroke-width="0.8"/>
<line x1="273.4" y1="435.3" x2="277.6" y2="435.3" stroke="#333" stroke-width="0.8"/>
<polygon points="275.1,428.90000000000003 280.7,428.90000000000003 277.9,432.6" fill="#1a1a1a"/>
<line x1="275.3" y1="433.0" x2="280.5" y2="433.0" stroke="#1a1a1a" stroke-width="0.9"/>
<circle cx="282.1" cy="430.20000000000005" r="0.55" fill="#555"/>
<circle cx="282.1" cy="432.0" r="0.55" fill="#555"/>
<line x1="284.5" y1="427.1" x2="284.5" y2="435.5" stroke="#1a1a1a" stroke-width="1.1"/>
<line x1="284.5" y1="431.3" x2="289.7" y2="427.1" stroke="#1a1a1a" stroke-width="0.9"/>
<line x1="284.5" y1="431.3" x2="289.7" y2="435.3" stroke="#1a1a1a" stroke-width="0.9"/>
<line x1="289.7" y1="427.1" x2="300" y2="427.1" stroke="#1a1a1a" stroke-width="0.9"/>
<polygon points="303.6,427.1 299.60,428.40 299.60,425.80" fill="#1a1a1a"/>
<line x1="289.7" y1="435.3" x2="300" y2="435.3" stroke="#1a1a1a" stroke-width="0.9"/>
<polygon points="303.6,435.3 299.60,436.60 299.60,434.00" fill="#1a1a1a"/>
<line x1="251.6" y1="435.3" x2="260" y2="435.3" stroke="#1a1a1a" stroke-width="1"/>
<rect x="260" y="433.5" width="8.6" height="3.6" stroke="#1a1a1a" stroke-width="0.9" fill="#fff"/>
<line x1="268.6" y1="435.3" x2="273.4" y2="435.3" stroke="#1a1a1a" stroke-width="1"/>
<circle cx="251.6" cy="435.3" r="1.3" fill="#1a1a1a"/>
<line x1="169.5" y1="448.1" x2="273.4" y2="448.1" stroke="#1a1a1a" stroke-width="1"/>
<rect x="273.4" y="444.6" width="16.3" height="14.6" stroke="#888" stroke-width="0.9" fill="#fbfbfb"/>
<line x1="273.4" y1="444.6" x2="273.4" y2="459.20000000000005" stroke="#1a1a1a" stroke-width="1.1"/>
<line x1="273.4" y1="448.1" x2="277.6" y2="448.1" stroke="#333" stroke-width="0.8"/>
<line x1="273.4" y1="456.3" x2="277.6" y2="456.3" stroke="#333" stroke-width="0.8"/>
<polygon points="275.1,449.90000000000003 280.7,449.90000000000003 277.9,453.6" fill="#1a1a1a"/>
<line x1="275.3" y1="454.0" x2="280.5" y2="454.0" stroke="#1a1a1a" stroke-width="0.9"/>
<circle cx="282.1" cy="451.20000000000005" r="0.55" fill="#555"/>
<circle cx="282.1" cy="453.0" r="0.55" fill="#555"/>
<line x1="284.5" y1="448.1" x2="284.5" y2="456.5" stroke="#1a1a1a" stroke-width="1.1"/>
<line x1="284.5" y1="452.3" x2="289.7" y2="448.1" stroke="#1a1a1a" stroke-width="0.9"/>
<line x1="284.5" y1="452.3" x2="289.7" y2="456.3" stroke="#1a1a1a" stroke-width="0.9"/>
<line x1="289.7" y1="448.1" x2="300" y2="448.1" stroke="#1a1a1a" stroke-width="0.9"/>
<polygon points="303.6,448.1 299.60,449.40 299.60,446.80" fill="#1a1a1a"/>
<line x1="289.7" y1="456.3" x2="300" y2="456.3" stroke="#1a1a1a" stroke-width="0.9"/>
<polygon points="303.6,456.3 299.60,457.60 299.60,455.00" fill="#1a1a1a"/>
<line x1="251.6" y1="456.3" x2="260" y2="456.3" stroke="#1a1a1a" stroke-width="1"/>
<rect x="260" y="454.5" width="8.6" height="3.6" stroke="#1a1a1a" stroke-width="0.9" fill="#fff"/>
<line x1="268.6" y1="456.3" x2="273.4" y2="456.3" stroke="#1a1a1a" stroke-width="1"/>
<circle cx="251.6" cy="456.3" r="1.3" fill="#1a1a1a"/>
<line x1="169.5" y1="469.1" x2="273.4" y2="469.1" stroke="#1a1a1a" stroke-width="1"/>
<rect x="273.4" y="465.6" width="16.3" height="14.6" stroke="#888" stroke-width="0.9" fill="#fbfbfb"/>
<line x1="273.4" y1="465.6" x2="273.4" y2="480.20000000000005" stroke="#1a1a1a" stroke-width="1.1"/>
<line x1="273.4" y1="469.1" x2="277.6" y2="469.1" stroke="#333" stroke-width="0.8"/>
<line x1="273.4" y1="477.3" x2="277.6" y2="477.3" stroke="#333" stroke-width="0.8"/>
<polygon points="275.1,470.90000000000003 280.7,470.90000000000003 277.9,474.6" fill="#1a1a1a"/>
<line x1="275.3" y1="475.0" x2="280.5" y2="475.0" stroke="#1a1a1a" stroke-width="0.9"/>
<circle cx="282.1" cy="472.20000000000005" r="0.55" fill="#555"/>
<circle cx="282.1" cy="474.0" r="0.55" fill="#555"/>
<line x1="284.5" y1="469.1" x2="284.5" y2="477.5" stroke="#1a1a1a" stroke-width="1.1"/>
<line x1="284.5" y1="473.3" x2="289.7" y2="469.1" stroke="#1a1a1a" stroke-width="0.9"/>
<line x1="284.5" y1="473.3" x2="289.7" y2="477.3" stroke="#1a1a1a" stroke-width="0.9"/>
<line x1="289.7" y1="469.1" x2="300" y2="469.1" stroke="#1a1a1a" stroke-width="0.9"/>
<polygon points="303.6,469.1 299.60,470.40 299.60,467.80" fill="#1a1a1a"/>
<line x1="289.7" y1="477.3" x2="300" y2="477.3" stroke="#1a1a1a" stroke-width="0.9"/>
<polygon points="303.6,477.3 299.60,478.60 299.60,476.00" fill="#1a1a1a"/>
<line x1="251.6" y1="477.3" x2="260" y2="477.3" stroke="#1a1a1a" stroke-width="1"/>
<rect x="260" y="475.5" width="8.6" height="3.6" stroke="#1a1a1a" stroke-width="0.9" fill="#fff"/>
<line x1="268.6" y1="477.3" x2="273.4" y2="477.3" stroke="#1a1a1a" stroke-width="1"/>
<circle cx="251.6" cy="477.3" r="1.3" fill="#1a1a1a"/>
<line x1="169.5" y1="490.4" x2="273.4" y2="490.4" stroke="#1a1a1a" stroke-width="1"/>
<rect x="273.4" y="486.9" width="16.3" height="14.6" stroke="#888" stroke-width="0.9" fill="#fbfbfb"/>
<line x1="273.4" y1="486.9" x2="273.4" y2="501.5" stroke="#1a1a1a" stroke-width="1.1"/>
<line x1="273.4" y1="490.4" x2="277.6" y2="490.4" stroke="#333" stroke-width="0.8"/>
<line x1="273.4" y1="498.59999999999997" x2="277.6" y2="498.59999999999997" stroke="#333" stroke-width="0.8"/>
<polygon points="275.1,492.2 280.7,492.2 277.9,495.9" fill="#1a1a1a"/>
<line x1="275.3" y1="496.29999999999995" x2="280.5" y2="496.29999999999995" stroke="#1a1a1a" stroke-width="0.9"/>
<circle cx="282.1" cy="493.5" r="0.55" fill="#555"/>
<circle cx="282.1" cy="495.29999999999995" r="0.55" fill="#555"/>
<line x1="284.5" y1="490.4" x2="284.5" y2="498.79999999999995" stroke="#1a1a1a" stroke-width="1.1"/>
<line x1="284.5" y1="494.59999999999997" x2="289.7" y2="490.4" stroke="#1a1a1a" stroke-width="0.9"/>
<line x1="284.5" y1="494.59999999999997" x2="289.7" y2="498.59999999999997" stroke="#1a1a1a" stroke-width="0.9"/>
<line x1="289.7" y1="490.4" x2="300" y2="490.4" stroke="#1a1a1a" stroke-width="0.9"/>
<polygon points="303.6,490.4 299.60,491.70 299.60,489.10" fill="#1a1a1a"/>
<line x1="289.7" y1="498.59999999999997" x2="300" y2="498.59999999999997" stroke="#1a1a1a" stroke-width="0.9"/>
<polygon points="303.6,498.59999999999997 299.60,499.90 299.60,497.30" fill="#1a1a1a"/>
<line x1="251.6" y1="498.59999999999997" x2="260" y2="498.59999999999997" stroke="#1a1a1a" stroke-width="1"/>
<rect x="260" y="496.79999999999995" width="8.6" height="3.6" stroke="#1a1a1a" stroke-width="0.9" fill="#fff"/>
<line x1="268.6" y1="498.59999999999997" x2="273.4" y2="498.59999999999997" stroke="#1a1a1a" stroke-width="1"/>
<circle cx="251.6" cy="498.59999999999997" r="1.3" fill="#1a1a1a"/>
<line x1="169.5" y1="511.5" x2="273.4" y2="511.5" stroke="#1a1a1a" stroke-width="1"/>
<rect x="273.4" y="508.0" width="16.3" height="14.6" stroke="#888" stroke-width="0.9" fill="#fbfbfb"/>
<line x1="273.4" y1="508.0" x2="273.4" y2="522.6" stroke="#1a1a1a" stroke-width="1.1"/>
<line x1="273.4" y1="511.5" x2="277.6" y2="511.5" stroke="#333" stroke-width="0.8"/>
<line x1="273.4" y1="519.7" x2="277.6" y2="519.7" stroke="#333" stroke-width="0.8"/>
<polygon points="275.1,513.3 280.7,513.3 277.9,517.0" fill="#1a1a1a"/>
<line x1="275.3" y1="517.4" x2="280.5" y2="517.4" stroke="#1a1a1a" stroke-width="0.9"/>
<circle cx="282.1" cy="514.6" r="0.55" fill="#555"/>
<circle cx="282.1" cy="516.4" r="0.55" fill="#555"/>
<line x1="284.5" y1="511.5" x2="284.5" y2="519.9" stroke="#1a1a1a" stroke-width="1.1"/>
<line x1="284.5" y1="515.7" x2="289.7" y2="511.5" stroke="#1a1a1a" stroke-width="0.9"/>
<line x1="284.5" y1="515.7" x2="289.7" y2="519.7" stroke="#1a1a1a" stroke-width="0.9"/>
<line x1="289.7" y1="511.5" x2="300" y2="511.5" stroke="#1a1a1a" stroke-width="0.9"/>
<polygon points="303.6,511.5 299.60,512.80 299.60,510.20" fill="#1a1a1a"/>
<line x1="289.7" y1="519.7" x2="300" y2="519.7" stroke="#1a1a1a" stroke-width="0.9"/>
<polygon points="303.6,519.7 299.60,521.00 299.60,518.40" fill="#1a1a1a"/>
<line x1="251.6" y1="519.7" x2="260" y2="519.7" stroke="#1a1a1a" stroke-width="1"/>
<rect x="260" y="517.9000000000001" width="8.6" height="3.6" stroke="#1a1a1a" stroke-width="0.9" fill="#fff"/>
<line x1="268.6" y1="519.7" x2="273.4" y2="519.7" stroke="#1a1a1a" stroke-width="1"/>
<circle cx="251.6" cy="519.7" r="1.3" fill="#1a1a1a"/>
<line x1="169.5" y1="532.2" x2="273.4" y2="532.2" stroke="#1a1a1a" stroke-width="1"/>
<rect x="273.4" y="528.7" width="16.3" height="14.6" stroke="#888" stroke-width="0.9" fill="#fbfbfb"/>
<line x1="273.4" y1="528.7" x2="273.4" y2="543.3000000000001" stroke="#1a1a1a" stroke-width="1.1"/>
<line x1="273.4" y1="532.2" x2="277.6" y2="532.2" stroke="#333" stroke-width="0.8"/>
<line x1="273.4" y1="540.4000000000001" x2="277.6" y2="540.4000000000001" stroke="#333" stroke-width="0.8"/>
<polygon points="275.1,534.0 280.7,534.0 277.9,537.7" fill="#1a1a1a"/>
<line x1="275.3" y1="538.1" x2="280.5" y2="538.1" stroke="#1a1a1a" stroke-width="0.9"/>
<circle cx="282.1" cy="535.3000000000001" r="0.55" fill="#555"/>
<circle cx="282.1" cy="537.1" r="0.55" fill="#555"/>
<line x1="284.5" y1="532.2" x2="284.5" y2="540.6" stroke="#1a1a1a" stroke-width="1.1"/>
<line x1="284.5" y1="536.4000000000001" x2="289.7" y2="532.2" stroke="#1a1a1a" stroke-width="0.9"/>
<line x1="284.5" y1="536.4000000000001" x2="289.7" y2="540.4000000000001" stroke="#1a1a1a" stroke-width="0.9"/>
<line x1="289.7" y1="532.2" x2="300" y2="532.2" stroke="#1a1a1a" stroke-width="0.9"/>
<polygon points="303.6,532.2 299.60,533.50 299.60,530.90" fill="#1a1a1a"/>
<line x1="289.7" y1="540.4000000000001" x2="300" y2="540.4000000000001" stroke="#1a1a1a" stroke-width="0.9"/>
<polygon points="303.6,540.4000000000001 299.60,541.70 299.60,539.10" fill="#1a1a1a"/>
<line x1="251.6" y1="540.4000000000001" x2="260" y2="540.4000000000001" stroke="#1a1a1a" stroke-width="1"/>
<rect x="260" y="538.6000000000001" width="8.6" height="3.6" stroke="#1a1a1a" stroke-width="0.9" fill="#fff"/>
<line x1="268.6" y1="540.4000000000001" x2="273.4" y2="540.4000000000001" stroke="#1a1a1a" stroke-width="1"/>
<circle cx="251.6" cy="540.4000000000001" r="1.3" fill="#1a1a1a"/>
<line x1="169.5" y1="553.3" x2="273.4" y2="553.3" stroke="#1a1a1a" stroke-width="1"/>
<rect x="273.4" y="549.8" width="16.3" height="14.6" stroke="#888" stroke-width="0.9" fill="#fbfbfb"/>
<line x1="273.4" y1="549.8" x2="273.4" y2="564.4" stroke="#1a1a1a" stroke-width="1.1"/>
<line x1="273.4" y1="553.3" x2="277.6" y2="553.3" stroke="#333" stroke-width="0.8"/>
<line x1="273.4" y1="561.5" x2="277.6" y2="561.5" stroke="#333" stroke-width="0.8"/>
<polygon points="275.1,555.0999999999999 280.7,555.0999999999999 277.9,558.8" fill="#1a1a1a"/>
<line x1="275.3" y1="559.1999999999999" x2="280.5" y2="559.1999999999999" stroke="#1a1a1a" stroke-width="0.9"/>
<circle cx="282.1" cy="556.4" r="0.55" fill="#555"/>
<circle cx="282.1" cy="558.1999999999999" r="0.55" fill="#555"/>
<line x1="284.5" y1="553.3" x2="284.5" y2="561.6999999999999" stroke="#1a1a1a" stroke-width="1.1"/>
<line x1="284.5" y1="557.5" x2="289.7" y2="553.3" stroke="#1a1a1a" stroke-width="0.9"/>
<line x1="284.5" y1="557.5" x2="289.7" y2="561.5" stroke="#1a1a1a" stroke-width="0.9"/>
<line x1="289.7" y1="553.3" x2="300" y2="553.3" stroke="#1a1a1a" stroke-width="0.9"/>
<polygon points="303.6,553.3 299.60,554.60 299.60,552.00" fill="#1a1a1a"/>
<line x1="289.7" y1="561.5" x2="300" y2="561.5" stroke="#1a1a1a" stroke-width="0.9"/>
<polygon points="303.6,561.5 299.60,562.80 299.60,560.20" fill="#1a1a1a"/>
<line x1="251.6" y1="561.5" x2="260" y2="561.5" stroke="#1a1a1a" stroke-width="1"/>
<rect x="260" y="559.7" width="8.6" height="3.6" stroke="#1a1a1a" stroke-width="0.9" fill="#fff"/>
<line x1="268.6" y1="561.5" x2="273.4" y2="561.5" stroke="#1a1a1a" stroke-width="1"/>
<circle cx="251.6" cy="561.5" r="1.3" fill="#1a1a1a"/>
<line x1="251.6" y1="351.59999999999997" x2="251.6" y2="576.5" stroke="#1a1a1a" stroke-width="1"/>
<line x1="169.5" y1="576.5" x2="251.6" y2="576.5" stroke="#1a1a1a" stroke-width="1"/>
<rect x="309.4" y="330.3" width="21.2" height="253.7" stroke="#1a1a1a" stroke-width="1.3" fill="#e4e6e7"/>
<text x="320" y="410.0" font-family="Liberation Serif, serif" font-size="10" font-weight="500" text-anchor="middle" fill="#222">开</text>
<text x="320" y="435.2" font-family="Liberation Serif, serif" font-size="10" font-weight="500" text-anchor="middle" fill="#222">关</text>
<text x="320" y="460.4" font-family="Liberation Serif, serif" font-size="10" font-weight="500" text-anchor="middle" fill="#222">量</text>
<text x="320" y="485.6" font-family="Liberation Serif, serif" font-size="10" font-weight="500" text-anchor="middle" fill="#222">输</text>
<text x="320" y="510.8" font-family="Liberation Serif, serif" font-size="10" font-weight="500" text-anchor="middle" fill="#222">入</text>
<rect x="422.4" y="321.5" width="24.2" height="87.7" stroke="#1a1a1a" stroke-width="1.3" fill="#e4e6e7"/>
<text x="434.3" y="350.7" font-family="Liberation Serif, serif" font-size="10" font-weight="500" text-anchor="middle" fill="#222">中</text>
<text x="434.3" y="363.0" font-family="Liberation Serif, serif" font-size="10" font-weight="500" text-anchor="middle" fill="#222">央</text>
<text x="434.3" y="375.3" font-family="Liberation Serif, serif" font-size="10" font-weight="500" text-anchor="middle" fill="#222">信</text>
<text x="434.3" y="387.59999999999997" font-family="Liberation Serif, serif" font-size="10" font-weight="500" text-anchor="middle" fill="#222">号</text>
<line x1="461.8" y1="333.5" x2="461.8" y2="388.5" stroke="#1a1a1a" stroke-width="1"/>
<line x1="461.8" y1="333.5" x2="530" y2="333.5" stroke="#1a1a1a" stroke-width="1"/>
<text x="525.5" y="331.4" font-family="Liberation Sans, sans-serif" font-size="7.3" font-weight="bold" text-anchor="end" fill="#1a1a1a">1n301</text>
<rect x="534.4" y="326.5" width="54.4" height="13.699999999999989" stroke="#1a1a1a" stroke-width="1.3" fill="#e4e6e7"/>
<text x="539" y="336.95000000000005" font-family="Liberation Sans, sans-serif" font-size="10" font-weight="500" text-anchor="start" fill="#222">公共端1</text>
<line x1="461.8" y1="351.3" x2="489.5" y2="351.3" stroke="#1a1a1a" stroke-width="1"/>
<line x1="489.5" y1="354.8" x2="498" y2="351.1" stroke="#1a1a1a" stroke-width="1.2"/>
<line x1="498" y1="351.3" x2="530" y2="351.3" stroke="#1a1a1a" stroke-width="1"/>
<text x="525.5" y="349.2" font-family="Liberation Sans, sans-serif" font-size="7.3" font-weight="bold" text-anchor="end" fill="#1a1a1a">1n302</text>
<rect x="534.4" y="345.2" width="54.4" height="13.699999999999989" stroke="#1a1a1a" stroke-width="1.3" fill="#e4e6e7"/>
<text x="539" y="355.65" font-family="Liberation Sans, sans-serif" font-size="10" font-weight="500" text-anchor="start" fill="#222">保护动作</text>
<line x1="461.8" y1="369.6" x2="489.5" y2="369.6" stroke="#1a1a1a" stroke-width="1"/>
<line x1="489.5" y1="373.1" x2="498" y2="369.40000000000003" stroke="#1a1a1a" stroke-width="1.2"/>
<line x1="498" y1="369.6" x2="530" y2="369.6" stroke="#1a1a1a" stroke-width="1"/>
<text x="525.5" y="367.5" font-family="Liberation Sans, sans-serif" font-size="7.3" font-weight="bold" text-anchor="end" fill="#1a1a1a">1n303</text>
<rect x="534.4" y="363.7" width="54.4" height="13.300000000000011" stroke="#1a1a1a" stroke-width="1.3" fill="#e4e6e7"/>
<text x="539" y="373.95000000000005" font-family="Liberation Sans, sans-serif" font-size="10" font-weight="500" text-anchor="start" fill="#222">保护告警</text>
<line x1="461.8" y1="388.5" x2="489.5" y2="388.5" stroke="#1a1a1a" stroke-width="1"/>
<line x1="489.5" y1="392.0" x2="498" y2="388.3" stroke="#1a1a1a" stroke-width="1.2"/>
<line x1="498" y1="388.5" x2="530" y2="388.5" stroke="#1a1a1a" stroke-width="1"/>
<text x="525.5" y="386.4" font-family="Liberation Sans, sans-serif" font-size="7.3" font-weight="bold" text-anchor="end" fill="#1a1a1a">1n304</text>
<rect x="534.4" y="382.2" width="54.4" height="13.300000000000011" stroke="#1a1a1a" stroke-width="1.3" fill="#e4e6e7"/>
<text x="539" y="392.45000000000005" font-family="Liberation Sans, sans-serif" font-size="10" font-weight="500" text-anchor="start" fill="#222">装置异常</text>
<rect x="422.6" y="444.4" width="23.6" height="227.7" stroke="#1a1a1a" stroke-width="1.3" fill="#e4e6e7"/>
<text x="434.5" y="524.6999999999999" font-family="Liberation Serif, serif" font-size="10" font-weight="500" text-anchor="middle" fill="#222">保</text>
<text x="434.5" y="549.6999999999999" font-family="Liberation Serif, serif" font-size="10" font-weight="500" text-anchor="middle" fill="#222">护</text>
<text x="434.5" y="574.6999999999999" font-family="Liberation Serif, serif" font-size="10" font-weight="500" text-anchor="middle" fill="#222">出</text>
<text x="434.5" y="599.6999999999999" font-family="Liberation Serif, serif" font-size="10" font-weight="500" text-anchor="middle" fill="#222">口</text>
<polyline points="530,452.4 460.5,452.4 460.5,468.9 490.6,468.9" fill="none" stroke="#1a1a1a" stroke-width="1"/>
<line x1="490.6" y1="472.4" x2="498.4" y2="468.7" stroke="#1a1a1a" stroke-width="1.2"/>
<line x1="498.4" y1="468.9" x2="530" y2="468.9" stroke="#1a1a1a" stroke-width="1"/>
<text x="525.5" y="450.29999999999995" font-family="Liberation Sans, sans-serif" font-size="7.3" font-weight="bold" text-anchor="end" fill="#1a1a1a">1n305</text>
<text x="525.5" y="466.79999999999995" font-family="Liberation Sans, sans-serif" font-size="7.3" font-weight="bold" text-anchor="end" fill="#1a1a1a">1n306</text>
<rect x="533.3" y="449.3" width="50.80000000000007" height="25.19999999999999" stroke="#1a1a1a" stroke-width="1.3" fill="#e4e6e7"/>
<text x="558.7" y="460.1" font-family="Liberation Sans, sans-serif" font-size="10" font-weight="500" text-anchor="middle" fill="#222">差动保护</text>
<text x="558.7" y="471.1" font-family="Liberation Sans, sans-serif" font-size="10" font-weight="500" text-anchor="middle" fill="#222">跳高压侧</text>
<polyline points="530,488.5 460.5,488.5 460.5,506.8 490.6,506.8" fill="none" stroke="#1a1a1a" stroke-width="1"/>
<line x1="490.6" y1="510.3" x2="498.4" y2="506.6" stroke="#1a1a1a" stroke-width="1.2"/>
<line x1="498.4" y1="506.8" x2="530" y2="506.8" stroke="#1a1a1a" stroke-width="1"/>
<text x="525.5" y="486.4" font-family="Liberation Sans, sans-serif" font-size="7.3" font-weight="bold" text-anchor="end" fill="#1a1a1a">1n307</text>
<text x="525.5" y="504.7" font-family="Liberation Sans, sans-serif" font-size="7.3" font-weight="bold" text-anchor="end" fill="#1a1a1a">1n308</text>
<rect x="533.3" y="486.3" width="50.80000000000007" height="25.399999999999977" stroke="#1a1a1a" stroke-width="1.3" fill="#e4e6e7"/>
<text x="558.7" y="497.1" font-family="Liberation Sans, sans-serif" font-size="10" font-weight="500" text-anchor="middle" fill="#222">差动保护</text>
<text x="558.7" y="508.1" font-family="Liberation Sans, sans-serif" font-size="10" font-weight="500" text-anchor="middle" fill="#222">跳低压侧</text>
<polyline points="530,530 460.5,530 460.5,549.1 490.6,549.1" fill="none" stroke="#1a1a1a" stroke-width="1"/>
<line x1="490.6" y1="552.6" x2="498.4" y2="548.9" stroke="#1a1a1a" stroke-width="1.2"/>
<line x1="498.4" y1="549.1" x2="530" y2="549.1" stroke="#1a1a1a" stroke-width="1"/>
<text x="525.5" y="527.9" font-family="Liberation Sans, sans-serif" font-size="7.3" font-weight="bold" text-anchor="end" fill="#1a1a1a">1n309</text>
<text x="525.5" y="547.0" font-family="Liberation Sans, sans-serif" font-size="7.3" font-weight="bold" text-anchor="end" fill="#1a1a1a">1n310</text>
<rect x="533.3" y="527.2" width="51.700000000000045" height="25.0" stroke="#1a1a1a" stroke-width="1.3" fill="#e4e6e7"/>
<text x="559.15" y="538.0" font-family="Liberation Sans, sans-serif" font-size="10" font-weight="500" text-anchor="middle" fill="#222">差动保护</text>
<text x="559.15" y="549.0" font-family="Liberation Sans, sans-serif" font-size="10" font-weight="500" text-anchor="middle" fill="#222">备用</text>
<polyline points="530,570.6 460.5,570.6 460.5,589.6 490.6,589.6" fill="none" stroke="#1a1a1a" stroke-width="1"/>
<line x1="490.6" y1="593.1" x2="498.4" y2="589.4" stroke="#1a1a1a" stroke-width="1.2"/>
<line x1="498.4" y1="589.6" x2="530" y2="589.6" stroke="#1a1a1a" stroke-width="1"/>
<text x="525.5" y="568.5" font-family="Liberation Sans, sans-serif" font-size="7.3" font-weight="bold" text-anchor="end" fill="#1a1a1a">1n311</text>
<text x="525.5" y="587.5" font-family="Liberation Sans, sans-serif" font-size="7.3" font-weight="bold" text-anchor="end" fill="#1a1a1a">1n312</text>
<rect x="533.3" y="570.1" width="60.5" height="23.899999999999977" stroke="#1a1a1a" stroke-width="1.3" fill="#e4e6e7"/>
<text x="563.55" y="580.9" font-family="Liberation Sans, sans-serif" font-size="10" font-weight="500" text-anchor="middle" fill="#222">非电量保护</text>
<text x="563.55" y="591.9" font-family="Liberation Sans, sans-serif" font-size="10" font-weight="500" text-anchor="middle" fill="#222">跳高压侧</text>
<polyline points="530,609.6 460.5,609.6 460.5,630 490.6,630" fill="none" stroke="#1a1a1a" stroke-width="1"/>
<line x1="490.6" y1="633.5" x2="498.4" y2="629.8" stroke="#1a1a1a" stroke-width="1.2"/>
<line x1="498.4" y1="630" x2="530" y2="630" stroke="#1a1a1a" stroke-width="1"/>
<text x="525.5" y="607.5" font-family="Liberation Sans, sans-serif" font-size="7.3" font-weight="bold" text-anchor="end" fill="#1a1a1a">1n313</text>
<text x="525.5" y="627.9" font-family="Liberation Sans, sans-serif" font-size="7.3" font-weight="bold" text-anchor="end" fill="#1a1a1a">1n314</text>
<rect x="533.3" y="607.2" width="60.0" height="25.299999999999955" stroke="#1a1a1a" stroke-width="1.3" fill="#e4e6e7"/>
<text x="563.3" y="618.0" font-family="Liberation Sans, sans-serif" font-size="10" font-weight="500" text-anchor="middle" fill="#222">非电量保护</text>
<text x="563.3" y="629.0" font-family="Liberation Sans, sans-serif" font-size="10" font-weight="500" text-anchor="middle" fill="#222">跳低压侧</text>
<polyline points="530,646 460.5,646 460.5,665.8 490.6,665.8" fill="none" stroke="#1a1a1a" stroke-width="1"/>
<line x1="490.6" y1="669.3" x2="498.4" y2="665.5999999999999" stroke="#1a1a1a" stroke-width="1.2"/>
<line x1="498.4" y1="665.8" x2="530" y2="665.8" stroke="#1a1a1a" stroke-width="1"/>
<text x="525.5" y="643.9" font-family="Liberation Sans, sans-serif" font-size="7.3" font-weight="bold" text-anchor="end" fill="#1a1a1a">1n315</text>
<text x="525.5" y="663.6999999999999" font-family="Liberation Sans, sans-serif" font-size="7.3" font-weight="bold" text-anchor="end" fill="#1a1a1a">1n316</text>
<rect x="533.3" y="643.7" width="60.0" height="24.5" stroke="#1a1a1a" stroke-width="1.3" fill="#e4e6e7"/>
<text x="563.3" y="654.5" font-family="Liberation Sans, sans-serif" font-size="10" font-weight="500" text-anchor="middle" fill="#222">非电量保护</text>
<text x="563.3" y="665.5" font-family="Liberation Sans, sans-serif" font-size="10" font-weight="500" text-anchor="middle" fill="#222">备用</text>
<rect x="359.5" y="716.2" width="64.2" height="19.3" stroke="#1a1a1a" stroke-width="1.3" fill="#e4e6e7"/>
<text x="373.5" y="726" font-family="Liberation Serif, serif" font-size="8.5" font-weight="bold" text-anchor="middle" fill="#333" transform="rotate(-90 373.5 726)" dominant-baseline="central">装</text>
<text x="386.7" y="726" font-family="Liberation Serif, serif" font-size="8.5" font-weight="bold" text-anchor="middle" fill="#333" transform="rotate(-90 386.7 726)" dominant-baseline="central">置</text>
<text x="399.9" y="726" font-family="Liberation Serif, serif" font-size="8.5" font-weight="bold" text-anchor="middle" fill="#333" transform="rotate(-90 399.9 726)" dominant-baseline="central">电</text>
<text x="413.1" y="726" font-family="Liberation Serif, serif" font-size="8.5" font-weight="bold" text-anchor="middle" fill="#333" transform="rotate(-90 413.1 726)" dominant-baseline="central">源</text>
<rect x="456.3" y="715.2" width="39.3" height="19.3" stroke="#1a1a1a" stroke-width="1.3" fill="#e4e6e7"/>
<text x="465.4" y="725.6" font-family="Liberation Sans, sans-serif" font-size="9" font-weight="bold" text-anchor="middle" fill="#222" transform="rotate(-90 465.4 725.6)" dominant-baseline="central">4</text>
<text x="475.2" y="725.6" font-family="Liberation Sans, sans-serif" font-size="9" font-weight="bold" text-anchor="middle" fill="#222" transform="rotate(-90 475.2 725.6)" dominant-baseline="central">8</text>
<text x="485.0" y="725.6" font-family="Liberation Sans, sans-serif" font-size="9" font-weight="bold" text-anchor="middle" fill="#222" transform="rotate(-90 485.0 725.6)" dominant-baseline="central">5</text>
<text x="375.0" y="763" font-family="Liberation Sans, sans-serif" font-size="7.4" font-weight="bold" text-anchor="start" fill="#1a1a1a" transform="rotate(-90 375.0 763)">1n123</text>
<text x="375.0" y="777.6" font-family="Liberation Sans, sans-serif" font-size="7.3" font-weight="bold" text-anchor="end" fill="#1a1a1a" transform="rotate(-90 375.0 777.6)">DC220V+</text>
<text x="412.6" y="763" font-family="Liberation Sans, sans-serif" font-size="7.4" font-weight="bold" text-anchor="start" fill="#1a1a1a" transform="rotate(-90 412.6 763)">1n124</text>
<text x="412.6" y="777.6" font-family="Liberation Sans, sans-serif" font-size="7.3" font-weight="bold" text-anchor="end" fill="#1a1a1a" transform="rotate(-90 412.6 777.6)">DC220V-</text>
<text x="468.6" y="763" font-family="Liberation Sans, sans-serif" font-size="7.4" font-weight="bold" text-anchor="start" fill="#1a1a1a" transform="rotate(-90 468.6 763)">1n329</text>
<text x="468.6" y="777.6" font-family="Liberation Sans, sans-serif" font-size="7.3" font-weight="bold" text-anchor="end" fill="#1a1a1a" transform="rotate(-90 468.6 777.6)">485A</text>
<text x="487.6" y="763" font-family="Liberation Sans, sans-serif" font-size="7.4" font-weight="bold" text-anchor="start" fill="#1a1a1a" transform="rotate(-90 487.6 763)">1n330</text>
<text x="487.6" y="777.6" font-family="Liberation Sans, sans-serif" font-size="7.3" font-weight="bold" text-anchor="end" fill="#1a1a1a" transform="rotate(-90 487.6 777.6)">485B</text>
<text x="393.2" y="763" font-family="Liberation Sans, sans-serif" font-size="7.4" font-weight="bold" text-anchor="start" fill="#1a1a1a" transform="rotate(-90 393.2 763)">1n122</text>
<line x1="390.6" y1="773.7" x2="390.6" y2="788" stroke="#1a1a1a" stroke-width="1"/>
<rect x="386.2" y="787.7" width="9.9" height="2.1" fill="#1a1a1a"/>
<rect x="388.6" y="792.2" width="4.8" height="1.4" fill="#1a1a1a"/>
<rect x="389.5" y="797" width="3.3" height="2" fill="#1a1a1a"/>
<circle cx="304.9" cy="824" r="2" fill="#1a1a1a"/>
<path d="M304,820 A4,4 0 0 0 304,828" fill="none" stroke="#555" stroke-width="1"/>
<line x1="305" y1="824" x2="322.3" y2="824" stroke="#1a1a1a" stroke-width="1"/>
<text x="337.2" y="827" font-family="Liberation Sans, sans-serif" font-size="8" font-weight="bold" text-anchor="start" fill="#222">装置接线端子</text>
<path d="M194.9,223.29999999999998 A3.6,3.6 0 0 0 202.1,223.29999999999998" fill="#fff" stroke="#333" stroke-width="1"/>
<circle cx="198.5" cy="222.7" r="1.5" fill="#1a1a1a"/>
<path d="M209.0,223.29999999999998 A3.6,3.6 0 0 0 216.2,223.29999999999998" fill="#fff" stroke="#333" stroke-width="1"/>
<circle cx="212.6" cy="222.7" r="1.5" fill="#1a1a1a"/>
<path d="M223.70000000000002,223.29999999999998 A3.6,3.6 0 0 0 230.9,223.29999999999998" fill="#fff" stroke="#333" stroke-width="1"/>
<circle cx="227.3" cy="222.7" r="1.5" fill="#1a1a1a"/>
<path d="M237.8,223.29999999999998 A3.6,3.6 0 0 0 245.0,223.29999999999998" fill="#fff" stroke="#333" stroke-width="1"/>
<circle cx="241.4" cy="222.7" r="1.5" fill="#1a1a1a"/>
<path d="M252.20000000000002,223.29999999999998 A3.6,3.6 0 0 0 259.40000000000003,223.29999999999998" fill="#fff" stroke="#333" stroke-width="1"/>
<circle cx="255.8" cy="222.7" r="1.5" fill="#1a1a1a"/>
<path d="M266.59999999999997,223.29999999999998 A3.6,3.6 0 0 0 273.8,223.29999999999998" fill="#fff" stroke="#333" stroke-width="1"/>
<circle cx="270.2" cy="222.7" r="1.5" fill="#1a1a1a"/>
<path d="M415.2,223.29999999999998 A3.6,3.6 0 0 0 422.40000000000003,223.29999999999998" fill="#fff" stroke="#333" stroke-width="1"/>
<circle cx="418.8" cy="222.7" r="1.5" fill="#1a1a1a"/>
<path d="M429.7,223.29999999999998 A3.6,3.6 0 0 0 436.90000000000003,223.29999999999998" fill="#fff" stroke="#333" stroke-width="1"/>
<circle cx="433.3" cy="222.7" r="1.5" fill="#1a1a1a"/>
<path d="M444.09999999999997,223.29999999999998 A3.6,3.6 0 0 0 451.3,223.29999999999998" fill="#fff" stroke="#333" stroke-width="1"/>
<circle cx="447.7" cy="222.7" r="1.5" fill="#1a1a1a"/>
<path d="M458.4,223.29999999999998 A3.6,3.6 0 0 0 465.6,223.29999999999998" fill="#fff" stroke="#333" stroke-width="1"/>
<circle cx="462" cy="222.7" r="1.5" fill="#1a1a1a"/>
<path d="M472.7,223.29999999999998 A3.6,3.6 0 0 0 479.90000000000003,223.29999999999998" fill="#fff" stroke="#333" stroke-width="1"/>
<circle cx="476.3" cy="222.7" r="1.5" fill="#1a1a1a"/>
<path d="M486.9,223.29999999999998 A3.6,3.6 0 0 0 494.1,223.29999999999998" fill="#fff" stroke="#333" stroke-width="1"/>
<circle cx="490.5" cy="222.7" r="1.5" fill="#1a1a1a"/>
<path d="M170.1,339.7 A3.7,3.7 0 0 1 170.1,347.09999999999997" fill="#fff" stroke="#222" stroke-width="1"/>
<circle cx="169.5" cy="343.4" r="1.5" fill="#1a1a1a"/>
<path d="M170.1,359.7 A3.7,3.7 0 0 1 170.1,367.09999999999997" fill="#fff" stroke="#222" stroke-width="1"/>
<circle cx="169.5" cy="363.4" r="1.5" fill="#1a1a1a"/>
<path d="M170.1,380.5 A3.7,3.7 0 0 1 170.1,387.9" fill="#fff" stroke="#222" stroke-width="1"/>
<circle cx="169.5" cy="384.2" r="1.5" fill="#1a1a1a"/>
<path d="M170.1,403.40000000000003 A3.7,3.7 0 0 1 170.1,410.8" fill="#fff" stroke="#222" stroke-width="1"/>
<circle cx="169.5" cy="407.1" r="1.5" fill="#1a1a1a"/>
<path d="M170.1,423.40000000000003 A3.7,3.7 0 0 1 170.1,430.8" fill="#fff" stroke="#222" stroke-width="1"/>
<circle cx="169.5" cy="427.1" r="1.5" fill="#1a1a1a"/>
<path d="M170.1,444.40000000000003 A3.7,3.7 0 0 1 170.1,451.8" fill="#fff" stroke="#222" stroke-width="1"/>
<circle cx="169.5" cy="448.1" r="1.5" fill="#1a1a1a"/>
<path d="M170.1,465.40000000000003 A3.7,3.7 0 0 1 170.1,472.8" fill="#fff" stroke="#222" stroke-width="1"/>
<circle cx="169.5" cy="469.1" r="1.5" fill="#1a1a1a"/>
<path d="M170.1,486.7 A3.7,3.7 0 0 1 170.1,494.09999999999997" fill="#fff" stroke="#222" stroke-width="1"/>
<circle cx="169.5" cy="490.4" r="1.5" fill="#1a1a1a"/>
<path d="M170.1,507.8 A3.7,3.7 0 0 1 170.1,515.2" fill="#fff" stroke="#222" stroke-width="1"/>
<circle cx="169.5" cy="511.5" r="1.5" fill="#1a1a1a"/>
<path d="M170.1,528.5 A3.7,3.7 0 0 1 170.1,535.9000000000001" fill="#fff" stroke="#222" stroke-width="1"/>
<circle cx="169.5" cy="532.2" r="1.5" fill="#1a1a1a"/>
<path d="M170.1,549.5999999999999 A3.7,3.7 0 0 1 170.1,557.0" fill="#fff" stroke="#222" stroke-width="1"/>
<circle cx="169.5" cy="553.3" r="1.5" fill="#1a1a1a"/>
<path d="M170.1,572.8 A3.7,3.7 0 0 1 170.1,580.2" fill="#fff" stroke="#222" stroke-width="1"/>
<circle cx="169.5" cy="576.5" r="1.5" fill="#1a1a1a"/>
<path d="M529.4,329.8 A3.7,3.7 0 0 0 529.4,337.2" fill="#fff" stroke="#222" stroke-width="1"/>
<circle cx="530" cy="333.5" r="1.5" fill="#1a1a1a"/>
<path d="M529.4,347.6 A3.7,3.7 0 0 0 529.4,355.0" fill="#fff" stroke="#222" stroke-width="1"/>
<circle cx="530" cy="351.3" r="1.5" fill="#1a1a1a"/>
<path d="M529.4,365.90000000000003 A3.7,3.7 0 0 0 529.4,373.3" fill="#fff" stroke="#222" stroke-width="1"/>
<circle cx="530" cy="369.6" r="1.5" fill="#1a1a1a"/>
<path d="M529.4,384.8 A3.7,3.7 0 0 0 529.4,392.2" fill="#fff" stroke="#222" stroke-width="1"/>
<circle cx="530" cy="388.5" r="1.5" fill="#1a1a1a"/>
<path d="M529.4,448.7 A3.7,3.7 0 0 0 529.4,456.09999999999997" fill="#fff" stroke="#222" stroke-width="1"/>
<circle cx="530" cy="452.4" r="1.5" fill="#1a1a1a"/>
<path d="M529.4,465.2 A3.7,3.7 0 0 0 529.4,472.59999999999997" fill="#fff" stroke="#222" stroke-width="1"/>
<circle cx="530" cy="468.9" r="1.5" fill="#1a1a1a"/>
<path d="M529.4,484.8 A3.7,3.7 0 0 0 529.4,492.2" fill="#fff" stroke="#222" stroke-width="1"/>
<circle cx="530" cy="488.5" r="1.5" fill="#1a1a1a"/>
<path d="M529.4,503.1 A3.7,3.7 0 0 0 529.4,510.5" fill="#fff" stroke="#222" stroke-width="1"/>
<circle cx="530" cy="506.8" r="1.5" fill="#1a1a1a"/>
<path d="M529.4,526.3 A3.7,3.7 0 0 0 529.4,533.7" fill="#fff" stroke="#222" stroke-width="1"/>
<circle cx="530" cy="530" r="1.5" fill="#1a1a1a"/>
<path d="M529.4,545.4 A3.7,3.7 0 0 0 529.4,552.8000000000001" fill="#fff" stroke="#222" stroke-width="1"/>
<circle cx="530" cy="549.1" r="1.5" fill="#1a1a1a"/>
<path d="M529.4,566.9 A3.7,3.7 0 0 0 529.4,574.3000000000001" fill="#fff" stroke="#222" stroke-width="1"/>
<circle cx="530" cy="570.6" r="1.5" fill="#1a1a1a"/>
<path d="M529.4,585.9 A3.7,3.7 0 0 0 529.4,593.3000000000001" fill="#fff" stroke="#222" stroke-width="1"/>
<circle cx="530" cy="589.6" r="1.5" fill="#1a1a1a"/>
<path d="M529.4,605.9 A3.7,3.7 0 0 0 529.4,613.3000000000001" fill="#fff" stroke="#222" stroke-width="1"/>
<circle cx="530" cy="609.6" r="1.5" fill="#1a1a1a"/>
<path d="M529.4,626.3 A3.7,3.7 0 0 0 529.4,633.7" fill="#fff" stroke="#222" stroke-width="1"/>
<circle cx="530" cy="630" r="1.5" fill="#1a1a1a"/>
<path d="M529.4,642.3 A3.7,3.7 0 0 0 529.4,649.7" fill="#fff" stroke="#222" stroke-width="1"/>
<circle cx="530" cy="646" r="1.5" fill="#1a1a1a"/>
<path d="M529.4,662.0999999999999 A3.7,3.7 0 0 0 529.4,669.5" fill="#fff" stroke="#222" stroke-width="1"/>
<circle cx="530" cy="665.8" r="1.5" fill="#1a1a1a"/>
<path d="M369.59999999999997,772.7 A3.8,3.8 0 0 1 377.2,772.7" fill="#fff" stroke="#333" stroke-width="1"/>
<circle cx="373.4" cy="773.7" r="1.5" fill="#1a1a1a"/>
<path d="M407.2,772.7 A3.8,3.8 0 0 1 414.8,772.7" fill="#fff" stroke="#333" stroke-width="1"/>
<circle cx="411" cy="773.7" r="1.5" fill="#1a1a1a"/>
<path d="M463.2,772.7 A3.8,3.8 0 0 1 470.8,772.7" fill="#fff" stroke="#333" stroke-width="1"/>
<circle cx="467" cy="773.7" r="1.5" fill="#1a1a1a"/>
<path d="M482.2,772.7 A3.8,3.8 0 0 1 489.8,772.7" fill="#fff" stroke="#333" stroke-width="1"/>
<circle cx="486" cy="773.7" r="1.5" fill="#1a1a1a"/>
</svg>
<div class="note"><span>说明：此图为直流供电接线示意图；若操作电源为交流时，“+KM”改为“L”，“-KM”改为“N”。</span></div>
</body></html>
